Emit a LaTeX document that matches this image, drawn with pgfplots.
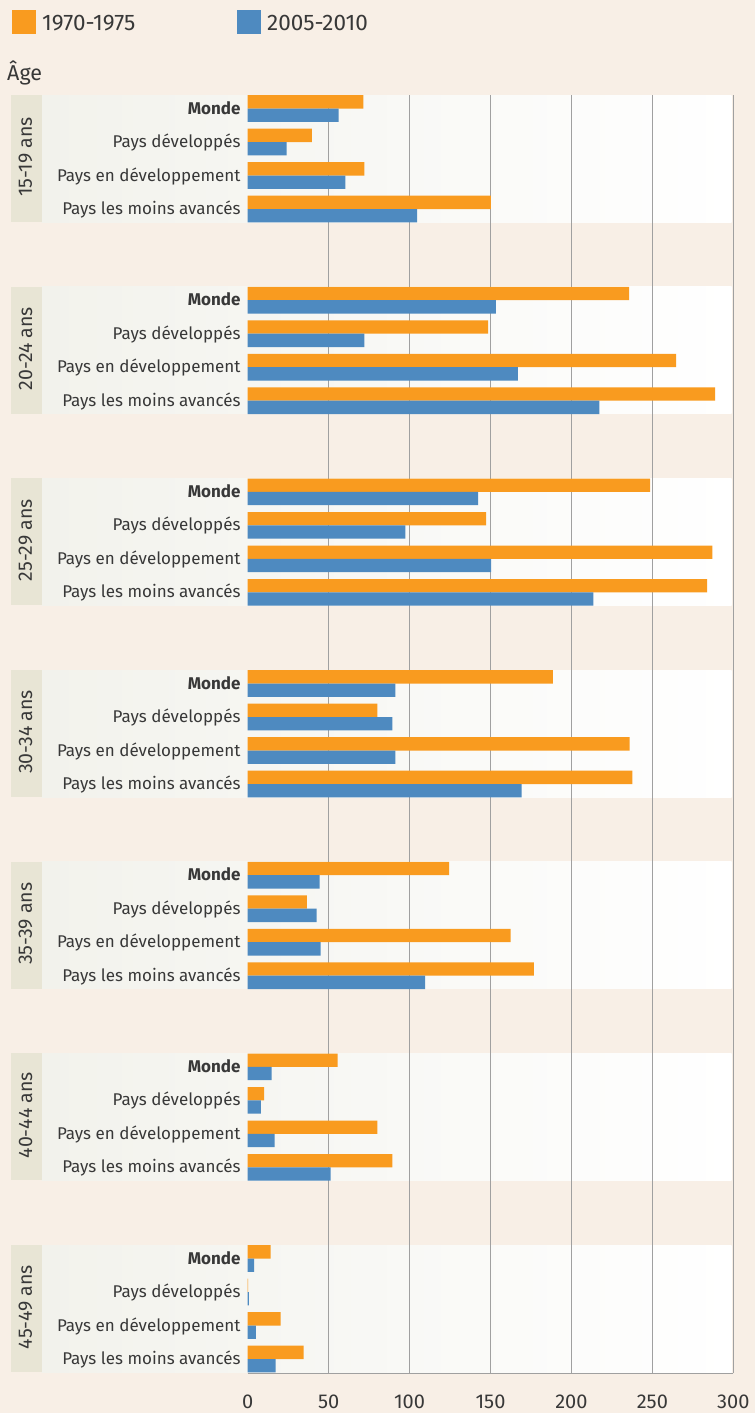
\documentclass[border=0pt]{standalone}
\usepackage{fontspec}
\setmainfont{Fira Sans}
\usepackage{pgfplots}
\pgfplotsset{compat=1.18}
\definecolor{bg}{HTML}{F8EFE6}
\definecolor{agebox}{HTML}{E8E5D5}
\definecolor{panelL}{HTML}{F2F2EC}
\definecolor{orng}{HTML}{F99B1F}
\definecolor{blu}{HTML}{4E8AC0}
\definecolor{gridc}{HTML}{A0A0A0}
\definecolor{txt}{HTML}{383838}

\begin{document}
\begin{tikzpicture}
% background and panels (pixel units, y downwards)
\begin{scope}[x=1pt,y=-1pt]
  \fill[bg] (0,0) rectangle (755,1413);
  \foreach \t in {95,286.7,478.3,670,861.7,1053.3,1245}{
    \shade[left color=panelL, right color=white] (41.7,\t) rectangle (731.7,\t+127);
    \fill[agebox] (11,\t) rectangle (41.7,\t+127);
  }
\end{scope}

\begin{axis}[
  at={(247.7pt,-1373.3pt)}, anchor=south west,
  width=485.6pt, height=1278.3pt, scale only axis,
  xmin=0, xmax=300, ymin=-1373.3, ymax=-95,
  xbar, bar width=13.3,
  axis line style={draw=none},
  ytick=\empty,
  xtick={50,100,...,300},
  extra x ticks={0}, extra x tick style={grid=none},
  xmajorgrids, grid style={gridc, line width=1.3pt},
  major tick length=0pt, tick style={draw=none},
  xticklabel style={font=\fontsize{20}{24}\selectfont, text=txt, inner sep=0pt, yshift=-21pt},
  /pgf/number format/assume math mode=true,
  clip=false,
]
% 1970-1975
\addplot[fill=orng, draw=none, bar shift=6.65] coordinates {
  (71.4,-108.5) (39.6,-142) (72.1,-175.5) (150.2,-209)
  (235.7,-300.2) (148.5,-333.7) (264.7,-367.2) (288.8,-400.7)
  (248.6,-491.8) (147.3,-525.3) (287.0,-558.8) (283.9,-592.3)
  (188.5,-683.5) (80.1,-717) (235.9,-750.5) (237.7,-784)
  (124.4,-875.2) (36.5,-908.7) (162.5,-942.2) (176.8,-975.7)
  (55.6,-1066.8) (10.1,-1100.3) (80.1,-1133.8) (89.4,-1167.3)
  (14.2,-1258.5) (0.3,-1292) (20.4,-1325.5) (34.6,-1359)
};
% 2005-2010
\addplot[fill=blu, draw=none, bar shift=-6.65] coordinates {
  (56.2,-108.5) (24.1,-142) (60.3,-175.5) (104.6,-209)
  (153.3,-300.2) (72.1,-333.7) (166.9,-367.2) (217.3,-400.7)
  (142.3,-491.8) (97.4,-525.3) (150.4,-558.8) (213.6,-592.3)
  (91.2,-683.5) (89.4,-717) (91.2,-750.5) (169.3,-784)
  (44.5,-875.2) (42.6,-908.7) (45.1,-942.2) (109.6,-975.7)
  (14.8,-1066.8) (8.2,-1100.3) (16.7,-1133.8) (51.3,-1167.3)
  (3.9,-1258.5) (0.8,-1292) (5.1,-1325.5) (17.3,-1359)
};
\end{axis}

% axis line, legend and labels
\begin{scope}[x=1pt,y=-1pt, every node/.style={text=txt}]
  \draw[gridc, line width=1.3pt] (247.7,1373.3) -- (733.3,1373.3);
  \fill[orng] (12,10) rectangle (36,34);
  \node[anchor=base west, inner sep=0pt, font=\fontsize{22.5}{26}\selectfont] at (42,31) {1970-1975};
  \fill[blu] (237,10) rectangle (261,34);
  \node[anchor=base west, inner sep=0pt, font=\fontsize{22.5}{26}\selectfont] at (267,31) {2005-2010};
  \node[anchor=base west, inner sep=0pt, font=\fontsize{21.5}{25}\selectfont] at (7,81) {Âge};
  \foreach \t/\a in {95/15-19 ans, 286.7/20-24 ans, 478.3/25-29 ans, 670/30-34 ans,
                     861.7/35-39 ans, 1053.3/40-44 ans, 1245/45-49 ans}{
    \node[rotate=90, inner sep=0pt, font=\fontsize{19.5}{23}\selectfont] at (25.5,\t+62) {\a};
    \node[anchor=base east, inner sep=0pt, font=\fontsize{17}{21}\selectfont\bfseries] at (240.7,\t+19) {Monde};
    \node[anchor=base east, inner sep=0pt, font=\fontsize{17}{21}\selectfont] at (240.7,\t+52.5) {Pays développés};
    \node[anchor=base east, inner sep=0pt, font=\fontsize{17}{21}\selectfont] at (240.7,\t+86) {Pays en développement};
    \node[anchor=base east, inner sep=0pt, font=\fontsize{17}{21}\selectfont] at (240.7,\t+119.5) {Pays les moins avancés};
  }
\end{scope}
\end{tikzpicture}
\end{document}
